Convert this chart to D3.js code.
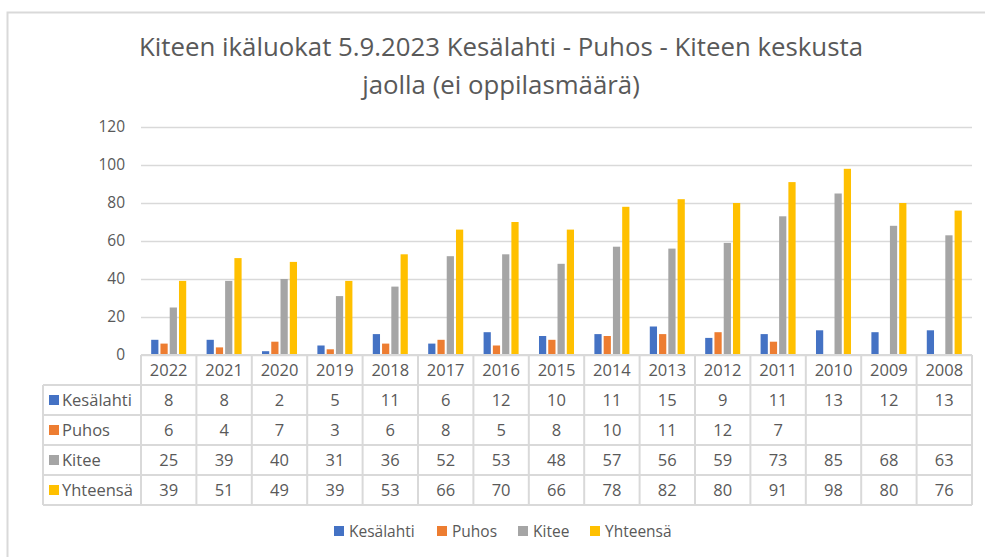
<!DOCTYPE html>
<html lang="fi">
  <head>
    <meta charset="utf-8">
    <title>Kiteen ikäluokat 5.9.2023</title>
    <style>
      body {
          margin: 0;
          background: white;
      }
      svg {
          display: block;
          font-family: "Open Sans", "Noto Sans", sans-serif;
      }
    </style>
    <script src="https://d3js.org/d3.v7.min.js"></script>
  </head>
  <body>
    <div class="chart"></div>
    <script>

    // years shown left to right
    const years = ["2022","2021","2020","2019","2018","2017","2016","2015","2014","2013","2012","2011","2010","2009","2008"]
    const seriesNames = ["Kesälahti","Puhos","Kitee","Yhteensä"]
    const kesalahti = [8,8,2,5,11,6,12,10,11,15,9,11,13,12,13]
    const puhos = [6,4,7,3,6,8,5,8,10,11,12,7,null,null,null]
    const kitee = [25,39,40,31,36,52,53,48,57,56,59,73,85,68,63]
    const yhteensa = [39,51,49,39,53,66,70,66,78,82,80,91,98,80,76]
    const yTicks = [0,20,40,60,80,100,120]
    const colors = ["#4472C4","#ED7D31","#A5A5A5","#FFC000"]
    const titleLines = ["Kiteen ikäluokat 5.9.2023 Kesälahti - Puhos - Kiteen keskusta","jaolla (ei oppilasmäärä)"]

    const series = [kesalahti, puhos, kitee, yhteensa]

    const width = 985, height = 557
    const plot = { left: 141, right: 972, top: 127, bottom: 355 }
    const rowH = 30
    const tableLeft = 43
    const textColor = "#595959"
    const lineColor = "#d9d9d9"
    const cellFont = "16.5px"

    const svg = d3.select(".chart")
      .append("svg")
      .attr("width", width)
      .attr("height", height)

    // outer chart frame
    svg.append("rect")
      .attr("x", 7.5)
      .attr("y", 12.5)
      .attr("width", 1000)
      .attr("height", 600)
      .attr("fill", "white")
      .attr("stroke", lineColor)
      .attr("stroke-width", 2)

    svg.append("g")
      .selectAll("text")
      .data(titleLines)
      .join("text")
      .attr("x", 501)
      .attr("y", (d, i) => 56 + i * 38)
      .attr("text-anchor", "middle")
      .style("font-size", "25.8px")
      .style("fill", textColor)
      .text(d => d)

    const x = d3.scaleBand()
      .domain(years)
      .range([plot.left, plot.right])

    const x1 = d3.scaleBand()
      .domain(seriesNames)
      .range([0, x.bandwidth()])
      .paddingInner(0.22)
      .paddingOuter(1.1)

    const y = d3.scaleLinear()
      .domain([0, 120])
      .range([plot.bottom, plot.top])

    // gridlines and y labels
    const yAxis = svg.append("g")
      .attr("transform", `translate(${plot.left},0)`)
      .call(d3.axisLeft(y).tickValues(yTicks).tickSize(-(plot.right - plot.left)).tickPadding(16))
    yAxis.select(".domain").remove()
    yAxis.selectAll(".tick line").attr("stroke", lineColor).attr("stroke-width", 1.5)
    yAxis.selectAll(".tick text")
      .style("font-size", "15.5px")
      .style("font-family", "\"Open Sans\", sans-serif")
      .attr("fill", textColor)

    // bars
    svg.append("g")
      .selectAll("g")
      .data(series)
      .join("g")
      .attr("fill", (d, i) => colors[i])
      .selectAll("rect")
      .data((d, i) => d.map((v, j) => ({ year: years[j], name: seriesNames[i], value: v })).filter(d => d.value != null))
      .join("rect")
      .attr("x", d => x(d.year) + x1(d.name))
      .attr("width", x1.bandwidth())
      .attr("y", d => y(d.value))
      .attr("height", d => y(0) - y(d.value))

    // data table
    const table = svg.append("g")
    const tableBottom = plot.bottom + rowH * 5

    // horizontal lines
    table.selectAll("line.h")
      .data(d3.range(6))
      .join("line")
      .attr("class", "h")
      .attr("x1", d => d == 0 ? plot.left : tableLeft)
      .attr("x2", plot.right)
      .attr("y1", d => plot.bottom + d * rowH)
      .attr("y2", d => plot.bottom + d * rowH)
      .attr("stroke", lineColor)
      .attr("stroke-width", 2)

    // vertical lines
    table.selectAll("line.v")
      .data(years.map(d => x(d)).concat([plot.right]))
      .join("line")
      .attr("class", "v")
      .attr("x1", d => d)
      .attr("x2", d => d)
      .attr("y1", plot.bottom)
      .attr("y2", tableBottom)
      .attr("stroke", lineColor)
      .attr("stroke-width", 2)

    table.append("line")
      .attr("x1", tableLeft)
      .attr("x2", tableLeft)
      .attr("y1", plot.bottom + rowH)
      .attr("y2", tableBottom)
      .attr("stroke", lineColor)
      .attr("stroke-width", 2)

    table.selectAll("text.year")
      .data(years)
      .join("text")
      .attr("class", "year")
      .attr("x", d => x(d) + x.bandwidth() / 2)
      .attr("y", plot.bottom + rowH / 2 + 6)
      .attr("text-anchor", "middle")
      .style("font-size", cellFont)
      .style("fill", textColor)
      .text(d => d)

    const rows = table.selectAll("g.row")
      .data(series)
      .join("g")
      .attr("class", "row")
      .attr("transform", (d, i) => `translate(0,${plot.bottom + rowH * (i + 1)})`)

    rows.append("rect")
      .attr("x", 49)
      .attr("y", rowH / 2 - 5)
      .attr("width", 10)
      .attr("height", 10)
      .attr("fill", (d, i) => colors[i])

    rows.append("text")
      .attr("x", 62)
      .attr("y", rowH / 2 + 6)
      .style("font-size", cellFont)
      .style("fill", textColor)
      .text((d, i) => seriesNames[i])

    rows.selectAll("text.val")
      .data(d => d.map((v, j) => ({ year: years[j], value: v })))
      .join("text")
      .attr("class", "val")
      .attr("x", d => x(d.year) + x.bandwidth() / 2)
      .attr("y", rowH / 2 + 6)
      .attr("text-anchor", "middle")
      .style("font-size", cellFont)
      .style("fill", textColor)
      .text(d => d.value == null ? "" : d.value)

    // legend
    const legendX = [334, 437, 518, 590]
    const legend = svg.append("g")
      .selectAll("g")
      .data(seriesNames)
      .join("g")
      .attr("transform", (d, i) => `translate(${legendX[i]},531)`)

    legend.append("rect")
      .attr("y", -5)
      .attr("width", 10)
      .attr("height", 10)
      .attr("fill", (d, i) => colors[i])

    legend.append("text")
      .attr("x", 15)
      .attr("y", 6)
      .style("font-size", "15.5px")
      .style("fill", textColor)
      .text(d => d)

    </script>
  </body>
</html>
